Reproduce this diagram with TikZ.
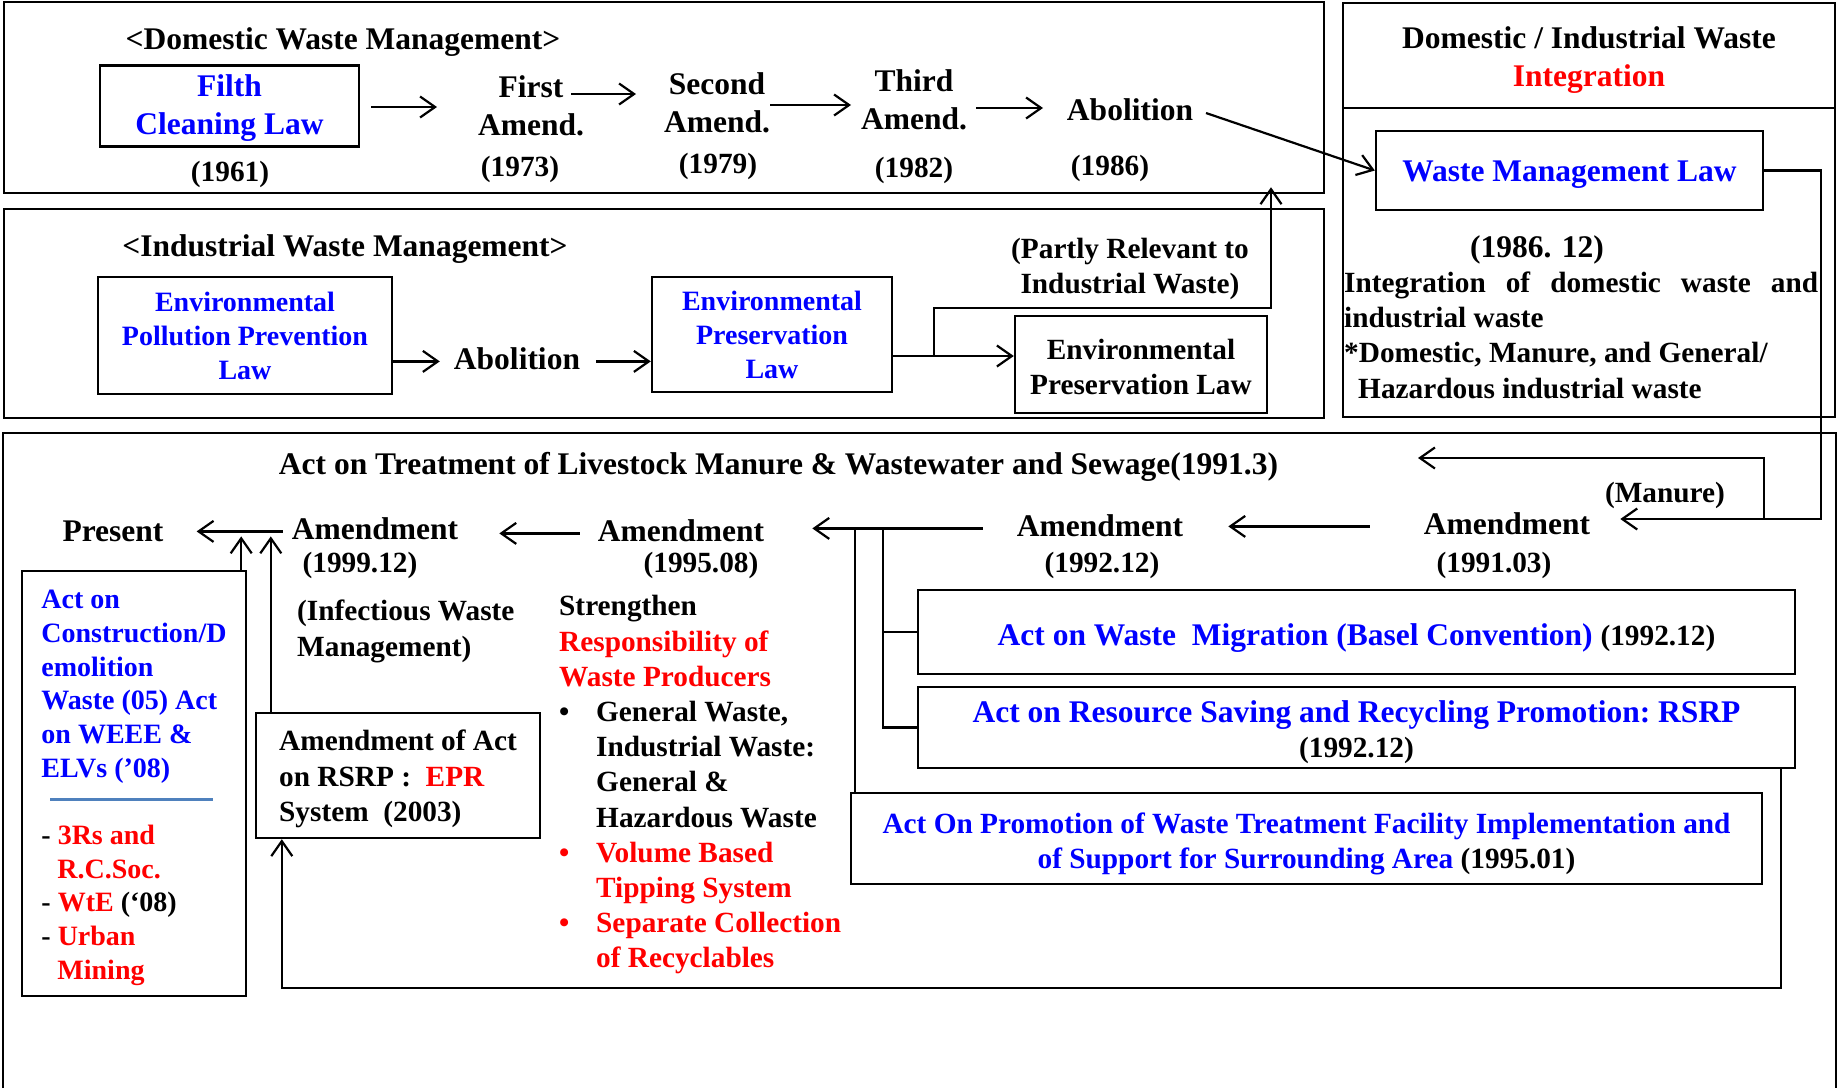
\documentclass[tikz,border=0pt]{standalone}
\usepackage{fontspec}
\setmainfont{Liberation Serif}
\usetikzlibrary{arrows.meta,calc}
\definecolor{sepblue}{RGB}{79,129,189}
% first-line strut with extra height (pt) above the standard strut
\newcommand{\fst}[1]{\rule[-.3\baselineskip]{0pt}{\dimexpr\baselineskip+#1pt\relax}}
\newcommand{\brk}{\\\strut}
\newcommand{\fbig}{\bfseries\fontsize{31.5}{38}\selectfont}
\newcommand{\fmid}{\bfseries\fontsize{29.3}{35.2}\selectfont}
\newcommand{\fsml}{\bfseries\fontsize{28}{34}\selectfont}
\newcommand{\flft}{\bfseries\fontsize{28}{33.7}\selectfont}
\newcommand{\frsrp}{\bfseries\fontsize{31.5}{35.3}\selectfont}
\begin{document}
\begin{tikzpicture}[x=1pt,y=-1pt,
  panel/.style={draw, line width=2.5pt, inner sep=0pt},
  box/.style={draw, line width=2.4pt, inner sep=0pt, align=center, execute at begin node=\strut},
  txt/.style={inner sep=0pt, align=center, execute at begin node=\strut},
  arr/.style={line width=2.2pt, -{Straight Barb[length=15pt,width=21pt]}},
  ln/.style={line width=2.2pt}]
\useasboundingbox (0,0) rectangle (1845,1088);

% ---------- Domestic panel ----------
\node[panel, minimum width=1320, minimum height=191] (dom) at (664,97.5) {};
\node[txt, font=\fbig, anchor=base] (dtitle) at (343,49) {<Domestic Waste Management>};
\node[box, font=\fbig, text=blue, minimum width=259, minimum height=80] (filth) at (229.5,106) {\fst{4.7}Filth\\Cleaning Law};
\node[txt, font=\fmid, anchor=base] (y61) at (230,181.5) {(1961)};
\node[txt, font=\fbig] (first) at (531,108.9) {\fst{0}First\brk Amend.};
\node[txt, font=\fmid, anchor=base] (y73) at (520,176) {(1973)};
\node[txt, font=\fbig] (second) at (717,105.6) {\fst{0}Second\brk Amend.};
\node[txt, font=\fmid, anchor=base] (y79) at (718,173) {(1979)};
\node[txt, font=\fbig] (third) at (914,102.6) {\fst{0}Third\brk Amend.};
\node[txt, font=\fmid, anchor=base] (y82) at (914,177) {(1982)};
\node[txt, font=\fbig, anchor=base] (abol1) at (1130,120) {Abolition};
\node[txt, font=\fmid, anchor=base] (y86) at (1110,175) {(1986)};

\coordinate (d1s) at (371,107); \coordinate (d1e) at (437,107);
\coordinate (d2s) at (571,94);  \coordinate (d2e) at (636,94);
\coordinate (d3s) at (770,105); \coordinate (d3e) at (851,105);
\coordinate (d4s) at (976,108); \coordinate (d4e) at (1043,108);
\coordinate (d5s) at (1206,113);
\draw[arr] (d1s) -- (d1e);
\draw[arr] (d2s) -- (d2e);
\draw[arr] (d3s) -- (d3e);
\draw[arr] (d4s) -- (d4e);

% ---------- Integration panel ----------
\node[panel, minimum width=492, minimum height=414] (intp) at (1589,210) {};
\draw[line width=2.5pt] (intp.west |- 0,108) -- (intp.east |- 0,108);
\node[txt, font=\fbig] (ihead) at (1589,59.6) {\fst{0}Domestic / Industrial Waste\brk \textcolor{red}{Integration}};
\node[box, font=\fbig, text=blue, minimum width=387, minimum height=79] (wml) at (1569.5,170.5) {\fst{7}Waste Management Law};
\node[txt, font=\fbig, anchor=base] (y8612) at (1537,257) {(1986. 12)};
\node[txt, font=\fmid, align=left, anchor=north west] (idesc) at (1344,267.6) {\fst{0}\makebox[474pt][s]{Integration of domestic waste and}\brk industrial waste\brk *Domestic, Manure, and General/\brk \hspace*{14pt}Hazardous industrial waste};
\draw[arr] (d5s) -- (wml.west);

% ---------- Industrial panel ----------
\node[panel, minimum width=1320, minimum height=209] (ind) at (664,313.5) {};
\node[txt, font=\fbig, anchor=base] (ititle) at (345,256.5) {<Industrial Waste Management>};
\node[box, font=\fsml, text=blue, minimum width=294, minimum height=117] (eppl) at (245,335.5) {\fst{7.2}Environmental\brk Pollution Prevention\brk Law};
\node[txt, font=\fbig, anchor=base] (abol2) at (517,369) {Abolition};
\node[box, font=\fsml, text=blue, minimum width=240, minimum height=115] (epl1) at (772,334.5) {\fst{7.2}Environmental\brk Preservation\brk Law};
\node[box, font=\fmid, minimum width=252, minimum height=97] (epl2) at (1141,364.5) {\fst{11}Environmental\brk Preservation Law};
\node[txt, font=\fmid] (partly) at (1130,269.3) {\fst{0}(Partly Relevant to\brk Industrial Waste)};

\draw[arr] (eppl.east |- abol2.center) -- ($(abol2.west)+(-14,0)$);
\draw[arr] ($(abol2.east)+(16,0)$) -- (abol2.east -| epl1.west);
\coordinate (j1) at (934,356);
\coordinate (j2) at (1271,308);
\draw[arr] (epl1.east |- j1) -- (j1 -| epl2.west);
\draw[arr] (j1) |- (j2) -- ($(j2 |- dom.south)+(0,-7)$);

% ---------- Bottom panel ----------
\draw[line width=2.5pt] (3,1088) -- (3,433) -- (1836,433) -- (1836,1088);
\node[txt, font=\fbig, anchor=base] (btitle) at (778.5,474) {Act on Treatment of Livestock Manure \& Wastewater and Sewage(1991.3)};
\node[txt, font=\fbig, anchor=base] (present) at (113,541) {Present};
\node[txt, font=\fbig, anchor=base] (am99) at (375,539) {Amendment};
\node[txt, font=\fmid, anchor=base] (y99) at (360,572) {(1999.12)};
\node[txt, font=\fbig, anchor=base] (am95) at (681,541) {Amendment};
\node[txt, font=\fmid, anchor=base] (y95) at (701,572) {(1995.08)};
\node[txt, font=\fbig, anchor=base] (am92) at (1100,536) {Amendment};
\node[txt, font=\fmid, anchor=base] (y92) at (1102,572) {(1992.12)};
\node[txt, font=\fbig, anchor=base] (am91) at (1507,534) {Amendment};
\node[txt, font=\fmid, anchor=base] (y91) at (1494,572) {(1991.03)};
\node[txt, font=\fmid, anchor=base] (manure) at (1665,502) {(Manure)};
\node[txt, font=\fmid, align=left, anchor=north west] (infect) at (297,596) {\fst{0}(Infectious Waste\brk Management)};

\node[txt, font=\fmid, align=left, anchor=north west] (streng) at (559,591) {\fst{0}Strengthen\brk
\textcolor{red}{Responsibility of}\brk
\textcolor{red}{Waste Producers}\brk
\makebox[37pt][l]{\textbullet}General Waste,\brk
\hspace*{37pt}Industrial Waste:\brk
\hspace*{37pt}General \&\brk
\hspace*{37pt}Hazardous Waste\brk
\makebox[37pt][l]{\textcolor{red}{\textbullet}}\textcolor{red}{Volume Based}\brk
\hspace*{37pt}\textcolor{red}{Tipping System}\brk
\makebox[37pt][l]{\textcolor{red}{\textbullet}}\textcolor{red}{Separate Collection}\brk
\hspace*{37pt}\textcolor{red}{of Recyclables}};

\node[box, font=\flft, align=left, minimum width=224, minimum height=425] (leftb) at (134,783.5) {\fst{7.4}\textcolor{blue}{Act on}\brk
\textcolor{blue}{Construction/D}\brk
\textcolor{blue}{emolition}\brk
\textcolor{blue}{Waste (05) Act}\brk
\textcolor{blue}{on WEEE \&}\brk
\textcolor{blue}{ELVs (’08)}\brk
\hspace*{9pt}\textcolor{sepblue}{\rule[10pt]{163pt}{2.5pt}}\brk
- \textcolor{red}{3Rs and}\brk
\hspace*{16pt}\textcolor{red}{R.C.Soc.}\brk
- \textcolor{red}{WtE} (‘08)\brk
- \textcolor{red}{Urban}\brk
\hspace*{16pt}\textcolor{red}{Mining}};

\node[box, font=\fmid, align=left, minimum width=284, minimum height=125] (aoa) at (398,775.5) {\fst{7}Amendment of Act\brk on RSRP :\ \ \textcolor{red}{EPR}\brk System\ \ (2003)};

\node[box, font=\fbig, minimum width=877, minimum height=84] (basel) at (1356.5,632) {\fst{12}\textcolor{blue}{Act on Waste\ \ Migration (Basel Convention)} {\fmid(1992.12)}};
\node[box, font=\frsrp, minimum width=877, minimum height=79] (rsrp) at (1356.5,727.5) {\fst{10.5}\textcolor{blue}{Act on Resource Saving and Recycling Promotion:\ RSRP}\\{\fmid(1992.12)}};
\node[box, font=\fmid, text=blue, minimum width=911, minimum height=91] (promo) at (1306.5,838.5) {\fst{11.4}Act On Promotion of Waste Treatment Facility Implementation and\brk of Support for Surrounding Area \textcolor{black}{(1995.01)}};

% connectors
\coordinate (rr) at (1821,519);
\draw[arr, shorten >=30pt] (wml.east) -| (rr) -- (rr -| am91.east);
\coordinate (mj) at (1764,519);
\coordinate (mt) at (1418,458);
\draw[arr] (mj) |- (mt);
\draw[arr, shorten <=54pt, shorten >=45pt] (am91.west) -- (am91.west -| am92.east);
\draw[arr, shorten <=34pt, shorten >=48pt] (am92.west) -- (am92.west -| am95.east);
\coordinate (v1) at (855,528.4);
\coordinate (v2) at (883,528.4);
\draw[ln] (v1) -- (v1 |- promo.north);
\draw[ln] (v2) |- (rsrp.west);
\draw[ln] (v2 |- basel.west) -- (basel.west);
\draw[arr, shorten <=18pt, shorten >=41pt] (am95.west) -- (am95.west -| am99.east);
\draw[arr, shorten <=9pt, shorten >=33pt] (am99.west) -- (am99.west -| present.east);
\draw[arr] ($(leftb.north east)+(-6,0)$) -- ($(leftb.north east |- am99.west)+(-6,5)$);
\draw[arr] ($(aoa.north west)+(16,0)$) -- ($(aoa.north west |- am99.west)+(16,5)$);
\coordinate (fb) at (1000,988);
\draw[arr] ($(rsrp.south east)+(-15,0)$) |- (fb) -| ($(aoa.south west)+(27,0)$);
\end{tikzpicture}
\end{document}
